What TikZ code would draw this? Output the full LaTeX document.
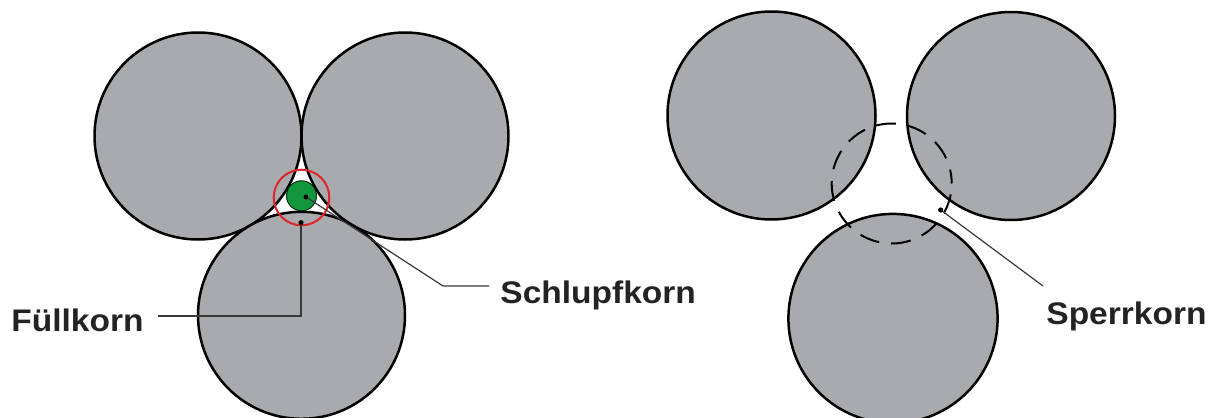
\documentclass[tikz,border=0pt]{standalone}
\usepackage{fontspec}
\usepackage{graphicx}
\setmainfont{Liberation Sans}
\definecolor{graingray}{RGB}{168,170,173}
\definecolor{fillgreen}{RGB}{18,150,62}
\definecolor{ringred}{RGB}{222,38,42}
\definecolor{txt}{RGB}{35,35,35}
\begin{document}
\begin{tikzpicture}[x=0.5pt,y=-0.5pt,
  grain/.style={fill=graingray,draw=black,line width=1.25pt},
  leader/.style={draw=txt!90,line width=0.6pt},
  dotmark/.style={fill=black},
  lbl/.style={anchor=base west,inner sep=0pt,text=txt,font=\fontsize{15.6pt}{18pt}\selectfont\bfseries}
]
\path[fill=white] (0,0) rectangle (1222,418);
\useasboundingbox (0,0) rectangle (1222,418);
% ---------- left group ----------
\coordinate (A1) at (198,136);
\coordinate (A2) at (405,136);
\coordinate (A3) at (301.5,315.3);
\coordinate (Ac) at (301.5,195.8);
\draw[grain] (A1) circle[radius=51.75pt];
\draw[grain] (A2) circle[radius=51.75pt];
\draw[grain] (A3) circle[radius=51.75pt];
\draw[fill=fillgreen,draw=black!70!fillgreen,line width=0.5pt] (Ac) circle[radius=7.5pt];
\draw[ringred,line width=1pt] (301.5,197.5) circle[radius=13.9pt];
\coordinate (fdot) at (301,222.7);
\coordinate (sdot) at (306,197);
\coordinate (selbow) at (443,286);
\coordinate (send) at (489,286);
\coordinate (fend) at (158,316);
\node[lbl] (fuell) at (11,331) {\scalebox{1.074}[1]{Füllkorn}};
\node[lbl] (schlupf) at (500,303) {\scalebox{1.074}[1]{Schlupfkorn}};
\draw[leader] (fdot) |- (fend);
\draw[leader] (sdot) -- (selbow) -- (send);
\fill[dotmark] (fdot) circle[radius=1.3pt];
\fill[dotmark] (sdot) circle[radius=1.2pt];
% ---------- right group ----------
\coordinate (B1) at (771.5,115.5);
\coordinate (B2) at (1011,116);
\coordinate (B3) at (893,318.5);
\draw[grain] (B1) circle[radius=52pt];
\draw[grain] (B2) circle[radius=52pt];
\draw[grain] (B3) circle[radius=52.3pt];
\draw[black,line width=1pt,dash pattern=on 10pt off 6pt,dash phase=3pt] (891.7,183.5) circle[radius=30pt];
\coordinate (pdot) at (940.7,210);
\coordinate (pend) at (1043,286);
\node[lbl] (sperr) at (1046,324) {\scalebox{1.074}[1]{Sperrkorn}};
\draw[leader] (pdot) -- (pend);
\fill[dotmark] (pdot) circle[radius=1.3pt];
\end{tikzpicture}
\end{document}
